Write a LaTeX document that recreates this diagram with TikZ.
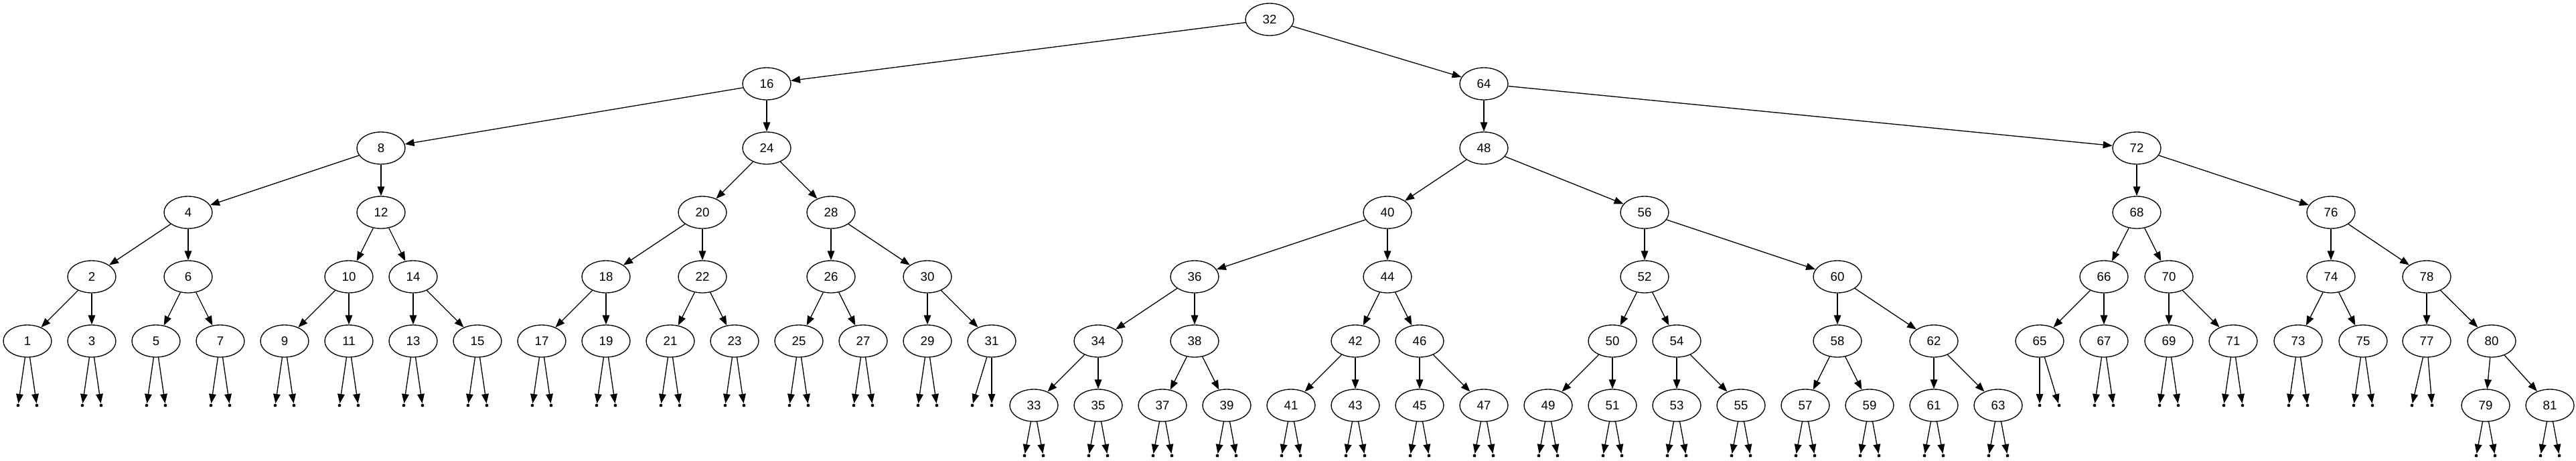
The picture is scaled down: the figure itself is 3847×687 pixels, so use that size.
\documentclass[tikz,border=0pt]{standalone}
\usepackage{fontspec}
\setmainfont{Liberation Sans}
\usepackage{tikz}
\usetikzlibrary{shapes.geometric,arrows.meta}

\begin{document}
\begin{tikzpicture}[x=0.75pt, y=-0.75pt, line width=1pt,
    >={Triangle[length=10.5pt,width=8pt]},
    vertex/.style={draw, ellipse, minimum width=54pt, minimum height=36pt, inner sep=0pt,
      font=\fontsize{14pt}{16pt}\selectfont},
    nil/.style={circle, fill=black, inner sep=0pt, minimum size=3.6pt}]
      \useasboundingbox (0, 0) rectangle (3847, 687);

      % level 0 to 2
      \node[vertex] (n32) at (1896, 29) {32};
      \node[vertex] (n16) at (1145, 125) {16};
      \node[vertex] (n64) at (2216, 125) {64};
      \node[vertex] (n8)  at (569, 221) {8};
      \node[vertex] (n24) at (1145, 221) {24};
      \node[vertex] (n48) at (2216, 221) {48};
      \node[vertex] (n72) at (3191, 221) {72};

      % level 3
      \node[vertex] (n4)  at (281, 317) {4};
      \node[vertex] (n12) at (569, 317) {12};
      \node[vertex] (n20) at (1049, 317) {20};
      \node[vertex] (n28) at (1241, 317) {28};
      \node[vertex] (n40) at (2072, 317) {40};
      \node[vertex] (n56) at (2456, 317) {56};
      \node[vertex] (n68) at (3191, 317) {68};
      \node[vertex] (n76) at (3481, 317) {76};

      % level 4
      \node[vertex] (n2)  at (137, 413) {2};
      \node[vertex] (n6)  at (281, 413) {6};
      \node[vertex] (n10) at (521, 413) {10};
      \node[vertex] (n14) at (617, 413) {14};
      \node[vertex] (n18) at (905, 413) {18};
      \node[vertex] (n22) at (1049, 413) {22};
      \node[vertex] (n26) at (1241, 413) {26};
      \node[vertex] (n30) at (1385, 413) {30};
      \node[vertex] (n36) at (1784, 413) {36};
      \node[vertex] (n44) at (2072, 413) {44};
      \node[vertex] (n52) at (2456, 413) {52};
      \node[vertex] (n60) at (2744, 413) {60};
      \node[vertex] (n66) at (3142, 413) {66};
      \node[vertex] (n70) at (3239, 413) {70};
      \node[vertex] (n74) at (3481, 413) {74};
      \node[vertex] (n78) at (3624, 413) {78};

      % level 5
      \node[vertex] (n1)  at (41, 509) {1};
      \node[vertex] (n3)  at (137, 509) {3};
      \node[vertex] (n5)  at (233, 509) {5};
      \node[vertex] (n7)  at (329, 509) {7};
      \node[vertex] (n9)  at (425, 509) {9};
      \node[vertex] (n11) at (521, 509) {11};
      \node[vertex] (n13) at (617, 509) {13};
      \node[vertex] (n15) at (713, 509) {15};
      \node[vertex] (n17) at (809, 509) {17};
      \node[vertex] (n19) at (905, 509) {19};
      \node[vertex] (n21) at (1001, 509) {21};
      \node[vertex] (n23) at (1097, 509) {23};
      \node[vertex] (n25) at (1193, 509) {25};
      \node[vertex] (n27) at (1289, 509) {27};
      \node[vertex] (n29) at (1385, 509) {29};
      \node[vertex] (n31) at (1481, 509) {31};
      \node[vertex] (n34) at (1640, 509) {34};
      \node[vertex] (n38) at (1784, 509) {38};
      \node[vertex] (n42) at (2024, 509) {42};
      \node[vertex] (n46) at (2120, 509) {46};
      \node[vertex] (n50) at (2408, 509) {50};
      \node[vertex] (n54) at (2504, 509) {54};
      \node[vertex] (n58) at (2744, 509) {58};
      \node[vertex] (n62) at (2888, 509) {62};
      \node[vertex] (n65) at (3046, 509) {65};
      \node[vertex] (n67) at (3142, 509) {67};
      \node[vertex] (n69) at (3239, 509) {69};
      \node[vertex] (n71) at (3335, 509) {71};
      \node[vertex] (n73) at (3432, 509) {73};
      \node[vertex] (n75) at (3529, 509) {75};
      \node[vertex] (n77) at (3624, 509) {77};
      \node[vertex] (n80) at (3721, 509) {80};

      % level 6
      \node[vertex] (n33) at (1544, 605) {33};
      \node[vertex] (n35) at (1640, 605) {35};
      \node[vertex] (n37) at (1736, 605) {37};
      \node[vertex] (n39) at (1832, 605) {39};
      \node[vertex] (n41) at (1928, 605) {41};
      \node[vertex] (n43) at (2024, 605) {43};
      \node[vertex] (n45) at (2120, 605) {45};
      \node[vertex] (n47) at (2216, 605) {47};
      \node[vertex] (n49) at (2312, 605) {49};
      \node[vertex] (n51) at (2408, 605) {51};
      \node[vertex] (n53) at (2504, 605) {53};
      \node[vertex] (n55) at (2600, 605) {55};
      \node[vertex] (n57) at (2696, 605) {57};
      \node[vertex] (n59) at (2792, 605) {59};
      \node[vertex] (n61) at (2888, 605) {61};
      \node[vertex] (n63) at (2984, 605) {63};
      \node[vertex] (n79) at (3712, 605) {79};
      \node[vertex] (n81) at (3808, 605) {81};

      % tree edges
      \draw[->] (n32) -- (n16);
      \draw[->] (n32) -- (n64);
      \draw[->] (n16) -- (n8);
      \draw[->] (n16) -- (n24);
      \draw[->] (n64) -- (n48);
      \draw[->] (n64) -- (n72);
      \draw[->] (n8) -- (n4);
      \draw[->] (n8) -- (n12);
      \draw[->] (n24) -- (n20);
      \draw[->] (n24) -- (n28);
      \draw[->] (n48) -- (n40);
      \draw[->] (n48) -- (n56);
      \draw[->] (n72) -- (n68);
      \draw[->] (n72) -- (n76);
      \draw[->] (n4) -- (n2);
      \draw[->] (n4) -- (n6);
      \draw[->] (n12) -- (n10);
      \draw[->] (n12) -- (n14);
      \draw[->] (n20) -- (n18);
      \draw[->] (n20) -- (n22);
      \draw[->] (n28) -- (n26);
      \draw[->] (n28) -- (n30);
      \draw[->] (n40) -- (n36);
      \draw[->] (n40) -- (n44);
      \draw[->] (n56) -- (n52);
      \draw[->] (n56) -- (n60);
      \draw[->] (n68) -- (n66);
      \draw[->] (n68) -- (n70);
      \draw[->] (n76) -- (n74);
      \draw[->] (n76) -- (n78);
      \draw[->] (n2) -- (n1);
      \draw[->] (n2) -- (n3);
      \draw[->] (n6) -- (n5);
      \draw[->] (n6) -- (n7);
      \draw[->] (n10) -- (n9);
      \draw[->] (n10) -- (n11);
      \draw[->] (n14) -- (n13);
      \draw[->] (n14) -- (n15);
      \draw[->] (n18) -- (n17);
      \draw[->] (n18) -- (n19);
      \draw[->] (n22) -- (n21);
      \draw[->] (n22) -- (n23);
      \draw[->] (n26) -- (n25);
      \draw[->] (n26) -- (n27);
      \draw[->] (n30) -- (n29);
      \draw[->] (n30) -- (n31);
      \draw[->] (n36) -- (n34);
      \draw[->] (n36) -- (n38);
      \draw[->] (n44) -- (n42);
      \draw[->] (n44) -- (n46);
      \draw[->] (n52) -- (n50);
      \draw[->] (n52) -- (n54);
      \draw[->] (n60) -- (n58);
      \draw[->] (n60) -- (n62);
      \draw[->] (n66) -- (n65);
      \draw[->] (n66) -- (n67);
      \draw[->] (n70) -- (n69);
      \draw[->] (n70) -- (n71);
      \draw[->] (n74) -- (n73);
      \draw[->] (n74) -- (n75);
      \draw[->] (n78) -- (n77);
      \draw[->] (n78) -- (n80);
      \draw[->] (n34) -- (n33);
      \draw[->] (n34) -- (n35);
      \draw[->] (n38) -- (n37);
      \draw[->] (n38) -- (n39);
      \draw[->] (n42) -- (n41);
      \draw[->] (n42) -- (n43);
      \draw[->] (n46) -- (n45);
      \draw[->] (n46) -- (n47);
      \draw[->] (n50) -- (n49);
      \draw[->] (n50) -- (n51);
      \draw[->] (n54) -- (n53);
      \draw[->] (n54) -- (n55);
      \draw[->] (n58) -- (n57);
      \draw[->] (n58) -- (n59);
      \draw[->] (n62) -- (n61);
      \draw[->] (n62) -- (n63);
      \draw[->] (n80) -- (n79);
      \draw[->] (n80) -- (n81);

      % empty children of level 5 leaves
      \node[nil] (n1l) at (27, 605) {};     \node[nil] (n1r) at (55, 605) {};
      \node[nil] (n3l) at (123, 605) {};    \node[nil] (n3r) at (151, 605) {};
      \node[nil] (n5l) at (219, 605) {};    \node[nil] (n5r) at (247, 605) {};
      \node[nil] (n7l) at (315, 605) {};    \node[nil] (n7r) at (343, 605) {};
      \node[nil] (n9l) at (411, 605) {};    \node[nil] (n9r) at (439, 605) {};
      \node[nil] (n11l) at (507, 605) {};   \node[nil] (n11r) at (535, 605) {};
      \node[nil] (n13l) at (603, 605) {};   \node[nil] (n13r) at (631, 605) {};
      \node[nil] (n15l) at (699, 605) {};   \node[nil] (n15r) at (727, 605) {};
      \node[nil] (n17l) at (795, 605) {};   \node[nil] (n17r) at (823, 605) {};
      \node[nil] (n19l) at (891, 605) {};   \node[nil] (n19r) at (919, 605) {};
      \node[nil] (n21l) at (987, 605) {};   \node[nil] (n21r) at (1015, 605) {};
      \node[nil] (n23l) at (1083, 605) {};  \node[nil] (n23r) at (1111, 605) {};
      \node[nil] (n25l) at (1179, 605) {};  \node[nil] (n25r) at (1207, 605) {};
      \node[nil] (n27l) at (1275, 605) {};  \node[nil] (n27r) at (1303, 605) {};
      \node[nil] (n29l) at (1371, 605) {};  \node[nil] (n29r) at (1399, 605) {};
      \node[nil] (n31l) at (1452, 605) {};  \node[nil] (n31r) at (1481, 605) {};
      \node[nil] (n65l) at (3046, 605) {};  \node[nil] (n65r) at (3075, 605) {};
      \node[nil] (n67l) at (3128, 605) {};  \node[nil] (n67r) at (3156, 605) {};
      \node[nil] (n69l) at (3225, 605) {};  \node[nil] (n69r) at (3253, 605) {};
      \node[nil] (n71l) at (3321, 605) {};  \node[nil] (n71r) at (3349, 605) {};
      \node[nil] (n73l) at (3418, 605) {};  \node[nil] (n73r) at (3446, 605) {};
      \node[nil] (n75l) at (3515, 605) {};  \node[nil] (n75r) at (3543, 605) {};
      \node[nil] (n77l) at (3602, 605) {};  \node[nil] (n77r) at (3632, 605) {};

      % empty children of level 6 leaves
      \node[nil] (n33l) at (1530, 680) {};  \node[nil] (n33r) at (1558, 680) {};
      \node[nil] (n35l) at (1626, 680) {};  \node[nil] (n35r) at (1654, 680) {};
      \node[nil] (n37l) at (1722, 680) {};  \node[nil] (n37r) at (1750, 680) {};
      \node[nil] (n39l) at (1818, 680) {};  \node[nil] (n39r) at (1846, 680) {};
      \node[nil] (n41l) at (1914, 680) {};  \node[nil] (n41r) at (1942, 680) {};
      \node[nil] (n43l) at (2010, 680) {};  \node[nil] (n43r) at (2038, 680) {};
      \node[nil] (n45l) at (2106, 680) {};  \node[nil] (n45r) at (2134, 680) {};
      \node[nil] (n47l) at (2202, 680) {};  \node[nil] (n47r) at (2230, 680) {};
      \node[nil] (n49l) at (2298, 680) {};  \node[nil] (n49r) at (2326, 680) {};
      \node[nil] (n51l) at (2394, 680) {};  \node[nil] (n51r) at (2422, 680) {};
      \node[nil] (n53l) at (2490, 680) {};  \node[nil] (n53r) at (2518, 680) {};
      \node[nil] (n55l) at (2586, 680) {};  \node[nil] (n55r) at (2614, 680) {};
      \node[nil] (n57l) at (2682, 680) {};  \node[nil] (n57r) at (2710, 680) {};
      \node[nil] (n59l) at (2778, 680) {};  \node[nil] (n59r) at (2806, 680) {};
      \node[nil] (n61l) at (2874, 680) {};  \node[nil] (n61r) at (2902, 680) {};
      \node[nil] (n63l) at (2970, 680) {};  \node[nil] (n63r) at (2998, 680) {};
      \node[nil] (n79l) at (3698, 680) {};  \node[nil] (n79r) at (3726, 680) {};
      \node[nil] (n81l) at (3794, 680) {};  \node[nil] (n81r) at (3822, 680) {};

      % edges to the empty children
      \draw[->] (n1) -- (n1l);    \draw[->] (n1) -- (n1r);
      \draw[->] (n3) -- (n3l);    \draw[->] (n3) -- (n3r);
      \draw[->] (n5) -- (n5l);    \draw[->] (n5) -- (n5r);
      \draw[->] (n7) -- (n7l);    \draw[->] (n7) -- (n7r);
      \draw[->] (n9) -- (n9l);    \draw[->] (n9) -- (n9r);
      \draw[->] (n11) -- (n11l);  \draw[->] (n11) -- (n11r);
      \draw[->] (n13) -- (n13l);  \draw[->] (n13) -- (n13r);
      \draw[->] (n15) -- (n15l);  \draw[->] (n15) -- (n15r);
      \draw[->] (n17) -- (n17l);  \draw[->] (n17) -- (n17r);
      \draw[->] (n19) -- (n19l);  \draw[->] (n19) -- (n19r);
      \draw[->] (n21) -- (n21l);  \draw[->] (n21) -- (n21r);
      \draw[->] (n23) -- (n23l);  \draw[->] (n23) -- (n23r);
      \draw[->] (n25) -- (n25l);  \draw[->] (n25) -- (n25r);
      \draw[->] (n27) -- (n27l);  \draw[->] (n27) -- (n27r);
      \draw[->] (n29) -- (n29l);  \draw[->] (n29) -- (n29r);
      \draw[->] (n31) -- (n31l);  \draw[->] (n31) -- (n31r);
      \draw[->] (n65) -- (n65l);  \draw[->] (n65) -- (n65r);
      \draw[->] (n67) -- (n67l);  \draw[->] (n67) -- (n67r);
      \draw[->] (n69) -- (n69l);  \draw[->] (n69) -- (n69r);
      \draw[->] (n71) -- (n71l);  \draw[->] (n71) -- (n71r);
      \draw[->] (n73) -- (n73l);  \draw[->] (n73) -- (n73r);
      \draw[->] (n75) -- (n75l);  \draw[->] (n75) -- (n75r);
      \draw[->] (n77) -- (n77l);  \draw[->] (n77) -- (n77r);
      \draw[->] (n33) -- (n33l);  \draw[->] (n33) -- (n33r);
      \draw[->] (n35) -- (n35l);  \draw[->] (n35) -- (n35r);
      \draw[->] (n37) -- (n37l);  \draw[->] (n37) -- (n37r);
      \draw[->] (n39) -- (n39l);  \draw[->] (n39) -- (n39r);
      \draw[->] (n41) -- (n41l);  \draw[->] (n41) -- (n41r);
      \draw[->] (n43) -- (n43l);  \draw[->] (n43) -- (n43r);
      \draw[->] (n45) -- (n45l);  \draw[->] (n45) -- (n45r);
      \draw[->] (n47) -- (n47l);  \draw[->] (n47) -- (n47r);
      \draw[->] (n49) -- (n49l);  \draw[->] (n49) -- (n49r);
      \draw[->] (n51) -- (n51l);  \draw[->] (n51) -- (n51r);
      \draw[->] (n53) -- (n53l);  \draw[->] (n53) -- (n53r);
      \draw[->] (n55) -- (n55l);  \draw[->] (n55) -- (n55r);
      \draw[->] (n57) -- (n57l);  \draw[->] (n57) -- (n57r);
      \draw[->] (n59) -- (n59l);  \draw[->] (n59) -- (n59r);
      \draw[->] (n61) -- (n61l);  \draw[->] (n61) -- (n61r);
      \draw[->] (n63) -- (n63l);  \draw[->] (n63) -- (n63r);
      \draw[->] (n79) -- (n79l);  \draw[->] (n79) -- (n79r);
      \draw[->] (n81) -- (n81l);  \draw[->] (n81) -- (n81r);
\end{tikzpicture}
\end{document}
